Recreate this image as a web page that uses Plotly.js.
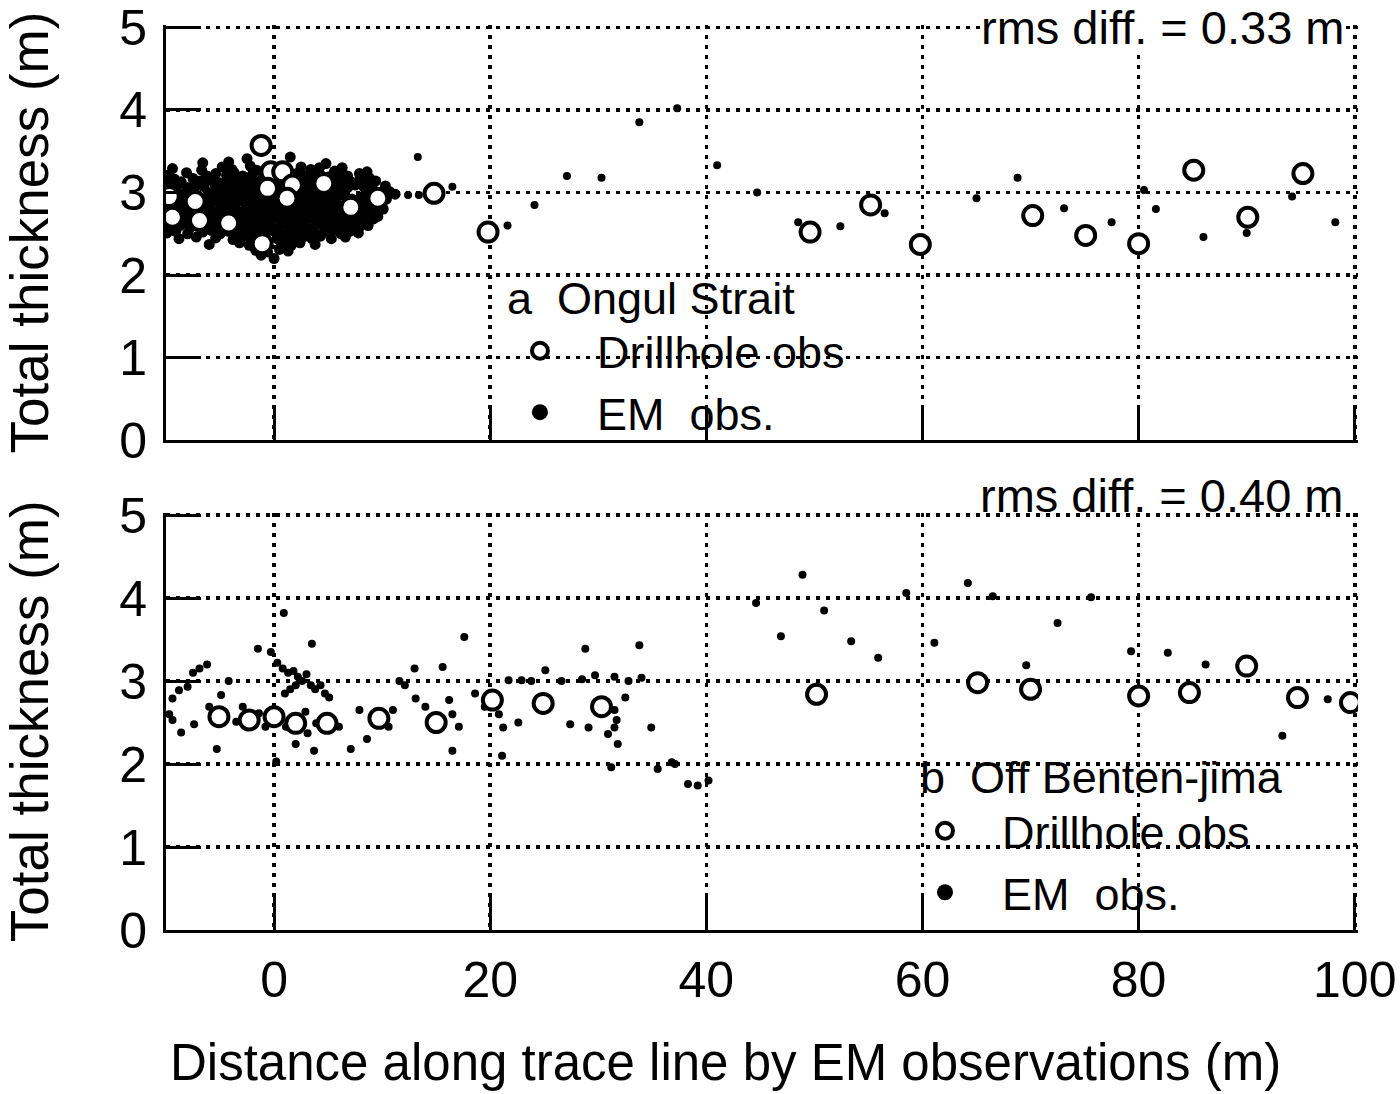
<!DOCTYPE html>
<html>
<head>
<meta charset="utf-8">
<script src="https://cdn.plot.ly/plotly-3.0.1.min.js"></script>
<style>
  html, body { margin: 0; padding: 0; background: #ffffff; }
  #chart { width: 1400px; height: 1094px; }
</style>
</head>
<body>
<div id="chart"></div>
<script>
//#region data
// a: Ongul Strait (upper panel)
const topDrill = [
  [-9.7,2.95],[-9.4,2.70],[-7.3,2.89],[-6.9,2.66],[-4.2,2.63],[-1.2,3.57],[-0.3,3.25],[0.8,3.25],
  [-0.6,3.05],[1.7,3.09],[1.2,2.93],[4.6,3.11],[7.1,2.82],[9.6,2.93],[-1.1,2.38],
  [14.8,2.99],[19.8,2.52],[49.6,2.52],[55.2,2.85],[59.8,2.37],[70.2,2.72],[75.1,2.48],
  [80.0,2.38],[85.1,3.27],[90.1,2.70],[95.2,3.23]
];
// dense EM cloud between -10 and 11 m
const topEmCluster = [
  [-4.2,3.37],[-2.5,3.41],[1.5,3.43],[4.8,3.35],[-6.6,3.36],
  [-9.4,3.29],[-6.7,3.27],[-4.8,3.31],[-3.9,3.28],[-2.2,3.32],[-1.6,3.27],[0.2,3.30],[2.5,3.31],[3.4,3.28],[4.2,3.30],[5.6,3.26],[6.3,3.30],[8.6,3.25],
  [-9.8,3.21],[-8.1,3.24],[-6.2,3.20],[-5.4,3.23],[-4.4,3.21],[-3.7,3.24],[-2.9,3.20],[-2.0,3.22],[-1.0,3.25],[0.4,3.19],[1.2,3.18],[2.1,3.23],[2.9,3.20],[3.6,3.24],[4.3,3.21],[5.1,3.19],[5.9,3.22],[6.8,3.20],[7.9,3.23],[8.8,3.18],
  [-10,3.14],[-9.2,3.16],[-8.6,3.13],[-7.5,3.17],[-6.8,3.14],[-5.9,3.15],[-5.1,3.12],[-4.3,3.16],[-3.5,3.14],[-2.7,3.17],[-1.9,3.13],[-1.2,3.15],[0.3,3.12],[2.6,3.16],[3.3,3.13],[4.0,3.17],[4.8,3.14],[5.6,3.12],[6.4,3.16],[7.1,3.13],[7.9,3.15],[8.7,3.12],[9.4,3.14],
  [-9.6,3.07],[-8.9,3.10],[-8.0,3.06],[-7.3,3.09],[-6.5,3.07],[-5.5,3.10],[-4.7,3.06],[-3.9,3.09],[-3.1,3.07],[-2.3,3.10],[-1.6,3.06],[0.9,3.06],[2.9,3.09],[3.6,3.06],[5.2,3.07],[6.0,3.10],[6.8,3.06],[7.5,3.09],[8.3,3.07],[9.1,3.10],[10.3,3.08],
  [-10,3.00],[-9.1,3.02],[-8.3,2.99],[-7.4,3.03],[-6.1,3.00],[-5.3,3.02],[-4.5,2.99],[-3.7,3.01],[-2.9,3.03],[-2.1,2.99],[-1.4,3.02],[0.4,3.00],[2.3,3.03],[3.1,2.99],[3.9,3.02],[4.6,3.00],[5.4,3.03],[6.2,2.99],[8.5,3.02],[9.3,3.00],[10.7,3.01],[11.2,2.98],
  [-9.5,2.93],[-8.7,2.95],[-8.0,2.92],[-6.3,2.94],[-5.6,2.96],[-4.9,2.92],[-4.1,2.95],[-3.3,2.93],[-2.5,2.96],[-1.8,2.92],[-1.0,2.94],[-0.3,2.92],[0.5,2.95],[2.5,2.93],[3.3,2.96],[4.1,2.92],[4.9,2.95],[5.7,2.93],[6.5,2.96],[7.2,2.92],[8.0,2.94],[8.8,2.96],[10.4,2.92],
  [-10,2.86],[-9.2,2.88],[-8.4,2.85],[-7.7,2.88],[-6.0,2.86],[-5.2,2.89],[-4.4,2.85],[-3.6,2.87],[-2.8,2.89],[-2.0,2.85],[-1.3,2.88],[-0.5,2.86],[0.3,2.89],[1.1,2.85],[1.9,2.87],[2.7,2.88],[3.5,2.85],[4.3,2.87],[5.1,2.89],[5.9,2.85],[7.4,2.87],[8.2,2.89],[9.0,2.85],[9.8,2.87],
  [-9.7,2.79],[-9.0,2.81],[-8.2,2.78],[-7.4,2.82],[-6.7,2.79],[-5.9,2.81],[-5.1,2.78],[-4.3,2.80],[-3.6,2.82],[-2.8,2.78],[-2.0,2.81],[-1.2,2.79],[-0.4,2.82],[0.4,2.78],[1.2,2.80],[2.0,2.82],[2.8,2.78],[3.6,2.81],[4.4,2.79],[5.2,2.82],[6.0,2.78],[7.8,2.80],[8.6,2.82],[9.4,2.78],[10.1,2.80],
  [-10,2.72],[-8.6,2.74],[-7.9,2.71],[-6.3,2.73],[-5.5,2.75],[-4.7,2.71],[-3.9,2.74],[-3.1,2.72],[-2.3,2.75],[-1.5,2.71],[-0.7,2.73],[0.1,2.75],[0.9,2.71],[1.7,2.74],[2.5,2.72],[3.3,2.75],[4.1,2.71],[4.9,2.73],[5.7,2.75],[6.5,2.71],[7.3,2.74],[8.1,2.72],[8.9,2.75],[9.6,2.71],
  [-9.8,2.65],[-9.0,2.67],[-8.2,2.64],[-6.0,2.66],[-5.2,2.68],[-4.4,2.64],[-3.6,2.67],[-2.8,2.65],[-2.0,2.68],[-1.2,2.64],[-0.4,2.66],[0.4,2.68],[1.2,2.64],[2.0,2.67],[2.8,2.65],[3.6,2.68],[4.4,2.64],[5.2,2.66],[6.0,2.68],[6.8,2.64],[7.6,2.67],[8.4,2.65],[9.2,2.68],
  [-9.5,2.58],[-8.7,2.60],[-7.8,2.57],[-7.0,2.61],[-6.3,2.58],[-5.5,2.60],[-3.3,2.57],[-2.5,2.61],[-1.7,2.58],[-0.9,2.60],[-0.1,2.57],[0.7,2.61],[1.5,2.58],[2.3,2.60],[3.1,2.57],[3.9,2.61],[4.7,2.58],[5.5,2.60],[6.3,2.57],[7.1,2.61],[7.9,2.58],[8.7,2.60],
  [-9.9,2.51],[-9.1,2.53],[-8.0,2.50],[-6.6,2.52],[-5.8,2.54],[-5.0,2.50],[-4.2,2.53],[-3.4,2.51],[-2.6,2.54],[-1.8,2.50],[-1.0,2.52],[-0.2,2.54],[0.6,2.50],[1.4,2.53],[2.2,2.51],[3.0,2.54],[3.8,2.50],[4.6,2.52],[5.4,2.54],[6.2,2.50],[7.0,2.53],[7.8,2.51],
  [-8.8,2.44],[-7.2,2.46],[-5.4,2.45],[-3.8,2.43],[-3.0,2.46],[-2.2,2.44],[-1.5,2.47],[0.3,2.44],[1.1,2.46],[1.9,2.43],[2.7,2.46],[3.5,2.44],[4.3,2.47],[5.3,2.44],[6.6,2.46],
  [-6.0,2.37],[-3.2,2.39],[-2.3,2.36],[0.7,2.38],[1.6,2.36],[2.4,2.39],[3.8,2.37],
  [-1.7,2.30],[-0.6,2.28],[0.5,2.31],[1.3,2.29],[0.0,2.20],[-1.2,2.24]
];
const topEmScatter = [
  [12.4,2.97],[13.4,2.97],[13.3,3.43],[16.5,3.07],[21.6,2.60],[24.1,2.85],[27.1,3.20],[30.3,3.18],
  [33.8,3.85],[37.3,4.02],[41.0,3.33],[44.7,3.00],[48.5,2.64],[52.4,2.59],[56.5,2.75],[65.0,2.93],
  [68.8,3.18],[73.1,2.81],[77.5,2.64],[80.5,3.03],[81.6,2.80],[86.0,2.46],[90.0,2.51],[94.2,2.95],[98.2,2.64]
];

// b: Off Benten-jima (lower panel)
const botDrill = [
  [-5.1,2.57],[-2.3,2.53],[0.0,2.57],[2.0,2.49],[4.9,2.49],[9.7,2.55],[15.0,2.50],[20.2,2.77],
  [24.9,2.73],[30.3,2.69],[50.2,2.84],[65.1,2.98],[70.0,2.90],[80.0,2.82],[84.7,2.86],[90.0,3.18],
  [94.7,2.80],[99.6,2.74]
];
const botEm = [
  [-9.7,2.60],[-9.4,2.79],[-9.4,2.53],[-8.8,2.89],[-8.6,2.38],[-8.0,2.93],[-7.5,3.10],[-7.4,2.48],
  [-6.9,3.15],[-6.2,3.20],[-6.0,2.69],[-5.3,2.18],[-4.9,2.83],[-4.2,3.00],[-3.5,2.51],[-2.9,2.69],
  [-1.5,3.39],[-1.4,2.61],[-0.8,2.45],[-0.3,3.35],[0.2,2.03],[0.3,3.22],[0.8,3.15],[0.9,3.82],
  [1.0,2.85],[1.1,2.45],[1.3,3.10],[1.5,2.90],[1.8,3.12],[2.0,2.95],[2.0,2.24],[2.2,3.05],
  [2.6,3.00],[2.9,2.63],[3.0,3.08],[3.1,2.37],[3.4,2.95],[3.5,3.45],[3.7,2.16],[3.8,2.90],
  [3.9,2.49],[4.3,2.95],[4.7,2.85],[5.1,2.80],[6.0,2.45],[7.1,2.18],[7.9,2.65],[8.6,2.30],
  [9.1,2.57],[10.6,2.45],[11.0,2.65],[11.6,3.00],[12.1,2.95],[13.0,3.15],[13.1,2.79],[14.0,2.69],
  [15.6,3.17],[16.2,2.77],[16.5,2.60],[16.5,2.16],[17.1,2.45],[17.6,3.53],[18.6,2.85],[19.5,2.69],
  [20.8,2.60],[21.1,2.10],[21.2,2.44],[21.7,3.01],[22.6,2.50],[22.9,3.01],[23.8,3.00],[25.1,3.13],
  [26.6,3.00],[27.4,2.48],[28.5,3.02],[28.8,3.39],[29.1,2.44],[29.7,3.07],[30.9,2.36],[31.2,1.96],
  [31.5,3.05],[31.5,2.65],[31.5,2.44],[31.7,2.53],[31.8,2.24],[32.5,2.80],[32.8,3.00],[33.8,3.43],
  [34.0,3.04],[34.9,2.44],[35.5,1.94],[36.8,2.02],[37.1,2.00],[38.3,1.76],[39.2,1.74],[40.2,1.80],
  [44.6,3.94],[46.9,3.54],[48.9,4.28],[50.9,3.85],[53.4,3.48],[55.9,3.28],[58.5,4.06],[61.1,3.46],
  [64.2,4.18],[66.5,4.02],[69.6,3.19],[72.5,3.70],[75.6,4.01],[79.3,3.36],[82.7,3.34],[86.2,3.20],
  [93.3,2.34],[97.5,2.78]
];

const xTicks = [0, 20, 40, 60, 80, 100];
const yTicks = [0, 1, 2, 3, 4, 5];
const rmsTop = 'rms diff. = 0.33 m';
const rmsBot = 'rms diff. = 0.40 m';
//#endregion

//#region traces
const FONT = 'Liberation Sans, Arial, sans-serif';
const xs = pts => pts.map(p => p[0]);
const ys = pts => pts.map(p => p[1]);

const emMarker = { color: '#000000', size: 8 };
const clusterMarker = { color: '#000000', size: 11 };
const drillMarker = { symbol: 'circle', color: '#ffffff', size: 19, line: { color: '#000000', width: 4 } };

const traces = [
  { x: xs(topEmCluster), y: ys(topEmCluster), xaxis: 'x2', yaxis: 'y2', type: 'scatter', mode: 'markers', marker: clusterMarker, showlegend: false },
  { x: xs(topEmScatter), y: ys(topEmScatter), xaxis: 'x2', yaxis: 'y2', type: 'scatter', mode: 'markers', marker: emMarker, showlegend: false },
  { x: xs(topDrill), y: ys(topDrill), xaxis: 'x2', yaxis: 'y2', type: 'scatter', mode: 'markers', marker: drillMarker, name: 'Drillhole obs', legend: 'legend' },
  { x: [null], y: [null], xaxis: 'x2', yaxis: 'y2', type: 'scatter', mode: 'markers', marker: { color: '#000000', size: 20 }, name: 'EM  obs.', legend: 'legend' },

  { x: xs(botEm), y: ys(botEm), xaxis: 'x', yaxis: 'y', type: 'scatter', mode: 'markers', marker: emMarker, showlegend: false },
  { x: xs(botDrill), y: ys(botDrill), xaxis: 'x', yaxis: 'y', type: 'scatter', mode: 'markers', marker: drillMarker, name: 'Drillhole obs', legend: 'legend2' },
  { x: [null], y: [null], xaxis: 'x', yaxis: 'y', type: 'scatter', mode: 'markers', marker: { color: '#000000', size: 20 }, name: 'EM  obs.', legend: 'legend2' }
];
//#endregion

//#region layout
const gridStyle = { showgrid: true, gridcolor: '#000000', gridwidth: 3.5, griddash: '4px,6px' };
const tickStyle = { ticks: 'inside', ticklen: 35, tickwidth: 3, tickcolor: '#000000' };
const lineStyle = { showline: true, linecolor: '#000000', linewidth: 3, mirror: false, zeroline: false, automargin: false };

// ranges run a hair past 5 and 100 so the edge grid lines at 5 and 100 are still drawn
const baseX = {
  range: [-10, 100.3], tickmode: 'array', tickvals: xTicks,
  tickfont: { family: FONT, size: 50, color: '#000000' }, ticklabelstandoff: 4, ticklabeloverflow: 'allow',
  ...gridStyle, ...tickStyle, ...lineStyle
};
const baseY = {
  range: [0, 5.03], tickmode: 'array', tickvals: yTicks,
  tickfont: { family: FONT, size: 50, color: '#000000' }, ticklabelstandoff: 6, ticklabeloverflow: 'allow',
  title: { text: 'Total thickness (m)', font: { family: FONT, size: 53, color: '#000000' }, standoff: 60 },
  ...gridStyle, ...tickStyle, ...lineStyle
};

const legendBase = {
  font: { family: FONT, size: 45, color: '#000000' },
  bgcolor: 'rgba(0,0,0,0)', borderwidth: 0, itemwidth: 104,
  xanchor: 'left', yanchor: 'top', tracegroupgap: 0
};

const annFont = { family: FONT, size: 45, color: '#000000' };
const paperText = (text, x, y, xanchor, extra) => ({
  text, xref: 'paper', yref: 'paper', x, y, xanchor, yanchor: 'middle', showarrow: false,
  font: annFont, ...(extra || {})
});

const layout = {
  width: 1400, height: 1094,
  paper_bgcolor: '#ffffff', plot_bgcolor: '#ffffff',
  margin: { l: 166, r: 42, t: 25, b: 164 },
  showlegend: true,
  xaxis: { ...baseX, anchor: 'y' },
  yaxis: { ...baseY, domain: [0, 0.4613], anchor: 'x' },
  xaxis2: { ...baseX, anchor: 'y2', matches: 'x', showticklabels: false },
  yaxis2: { ...baseY, domain: [0.5414, 1], anchor: 'x2' },
  legend: { ...legendBase, x: 0.2659, y: 0.6796 },
  legend2: { ...legendBase, x: 0.6057, y: 0.1492 },
  annotations: [
    paperText(rmsTop, 0.9899, 0.9972, 'right', { bgcolor: '#ffffff', borderpad: 0, font: { ...annFont, size: 47 } }),
    paperText(rmsBot, 0.9899, 0.4805, 'right', { font: { ...annFont, size: 47 } }),
    paperText('a  Ongul Strait', 0.2844, 0.6983, 'left'),
    paperText('b  Off Benten-jima', 0.6309, 0.1680, 'left'),
    paperText('Distance along trace line by EM observations (m)', 0.4690, -0.1459, 'center', { font: { ...annFont, size: 51 } })
  ]
};
//#endregion

Plotly.newPlot('chart', traces, layout, { staticPlot: true, displayModeBar: false });
</script>
</body>
</html>
